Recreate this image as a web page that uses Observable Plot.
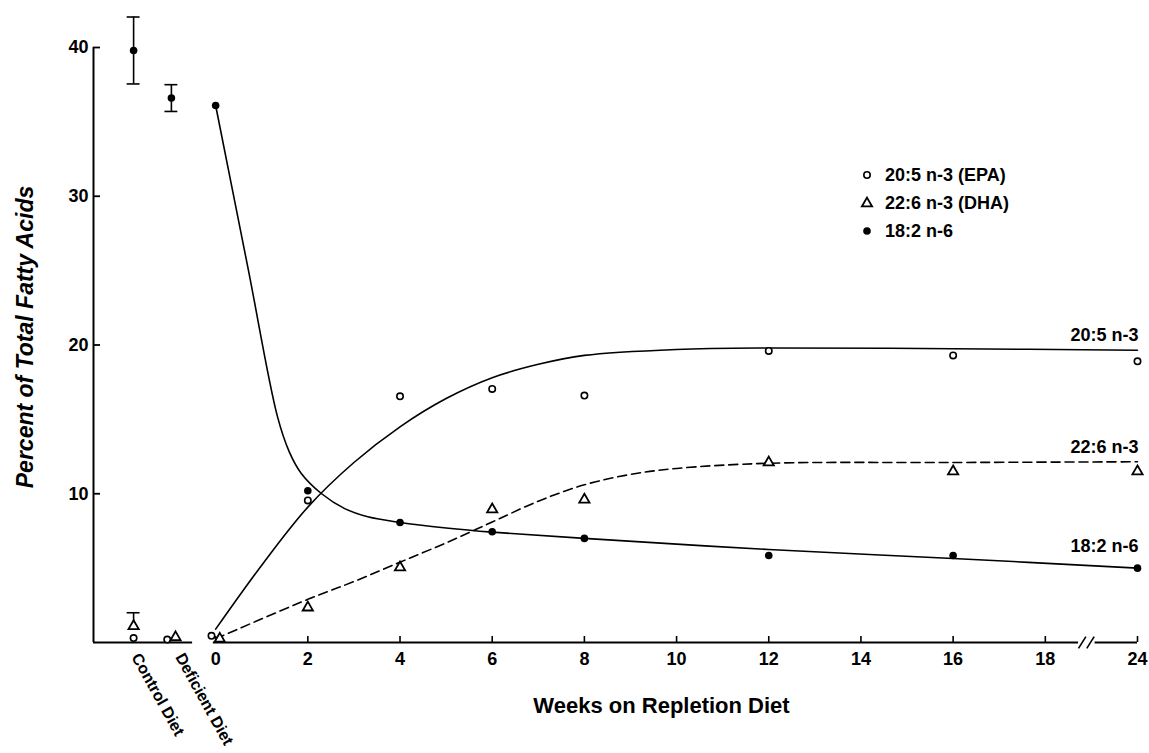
<!DOCTYPE html>
<html>
<head>
<meta charset="utf-8">
<script src="https://cdn.jsdelivr.net/npm/d3@7"></script>
<script src="https://cdn.jsdelivr.net/npm/@observablehq/plot@0.6"></script>
<style>
  html, body { margin: 0; padding: 0; background: #fff; }
  #wrap { position: relative; width: 1149px; height: 753px; overflow: hidden;
          font-family: "Liberation Sans", Arial, Helvetica, sans-serif; }
  #legend { position: absolute; left: 859px; top: 161px; font-weight: bold; font-size: 18px; color: #000; }
  #legend .row { display: flex; align-items: center; height: 28px; }
  #legend .row svg { width: 16px; height: 16px; margin-right: 10px; overflow: visible; }
</style>
</head>
<body>
<div id="wrap"><div id="legend"></div></div>
<script>
// ---------------- data ----------------
const weeks = [0, 2, 4, 6, 8, 12, 16, 24];
const epaValues = [0.45, 9.55, 16.55, 17.05, 16.6, 19.6, 19.3, 18.9];   // 20:5 n-3
const dhaValues = [0.25, 2.35, 5.05, 8.95, 9.6, 12.1, 11.5, 11.5];      // 22:6 n-3
const laValues  = [36.1, 10.2, 8.07, 7.45, 7.0, 5.85, 5.85, 5.0];       // 18:2 n-6

const dietGroups = ["Control Diet", "Deficient Diet"];
const dietEpa = [0.3, 0.2];
const dietDha = [1.1, 0.35];
const dietDhaErr = [0.9, 0];
const dietLa = [39.8, 36.6];
const dietLaErr = [2.25, 0.9];

// fitted curves as drawn in the figure
const epaCurveWeeks = [0, 1, 2, 3, 4, 5, 6, 7, 8, 10, 12, 16, 24];
const epaCurveValues = [0.9, 5.2, 9.1, 12.1, 14.5, 16.4, 17.8, 18.7, 19.3, 19.7, 19.8, 19.75, 19.65];
const dhaCurveWeeks = [0, 2, 3, 4, 5, 6, 7, 8, 9, 10, 12, 16, 24];
const dhaCurveValues = [0.25, 2.9, 4.1, 5.4, 6.7, 8.1, 9.5, 10.6, 11.3, 11.7, 12.05, 12.1, 12.15];
const laCurveWeeks = [0, 0.7, 1.34, 1.6, 1.85, 2.3, 2.8, 3.3, 4, 5, 6, 8, 12, 16, 24];
const laCurveValues = [36.1, 25.2, 15.2, 12.8, 11.4, 10.0, 9.0, 8.45, 8.07, 7.7, 7.42, 7.0, 6.25, 5.65, 5.0];

const seriesNames = ["20:5 n-3", "22:6 n-3", "18:2 n-6"];
const legendLabels = ["20:5 n-3 (EPA)", "22:6 n-3 (DHA)", "18:2 n-6"];
const xTickLabels = [0, 2, 4, 6, 8, 10, 12, 14, 16, 18, 24];
const yTickLabels = [10, 20, 30, 40];
const xTitle = "Weeks on Repletion Diet";
const yTitle = "Percent of Total Fatty Acids";

// ---------------- layout helpers ----------------
const breakStart = 18, breakFactor = 3;              // axis break between 18 and 24
const pos = w => w <= breakStart ? w : breakStart + (w - breakStart) / breakFactor;
const xmin = -2.65, xmax = pos(24);
const groupPos = {"Control Diet": -1.78, "Deficient Diet": -0.96};
const groupLabelDx = {"Control Diet": 2, "Deficient Diet": 8};
const endLabelDy = {"20:5 n-3": -15, "22:6 n-3": -15, "18:2 n-6": -22};
const nudge = 0.09;
const font = "Liberation Sans, Arial, Helvetica, sans-serif";

const pts = weeks.map((w, i) => ({x: pos(w), nudge: w === 0, epa: epaValues[i], dha: dhaValues[i], la: laValues[i]}));
const diet = dietGroups.map((g, i) => ({x: groupPos[g], nudge: g === "Deficient Diet", epa: dietEpa[i], dha: dietDha[i], dhaErr: dietDhaErr[i], la: dietLa[i], laErr: dietLaErr[i], name: g}));
const allPts = [...diet, ...pts];

const curve = (ws, vs) => ws.map((w, i) => ({x: pos(w), y: vs[i]}));
const epaCurve = curve(epaCurveWeeks, epaCurveValues);
const dhaCurve = curve(dhaCurveWeeks, dhaCurveValues);
const laCurve = curve(laCurveWeeks, laCurveValues);
const ends = [epaCurve, dhaCurve, laCurve].map((c, i) => ({...c[c.length - 1], name: seriesNames[i]}));

const tickPos = xTickLabels.map(pos);
const tickLabelOf = new Map(xTickLabels.map(w => [pos(w), String(w)]));

const capW = 0.14;
const laErr = diet.filter(d => d.laErr > 0);
const dhaErr = diet.filter(d => d.dhaErr > 0);

const groupLabel = g => Plot.text(diet.filter(d => d.name === g), {x: "x", y: 0, text: "name", rotate: 61, textAnchor: "start", lineAnchor: "middle", dy: 12, dx: groupLabelDx[g], fontSize: 16, fontWeight: "bold"});
const endLabel = n => Plot.text(ends.filter(d => d.name === n), {x: "x", y: "y", text: "name", textAnchor: "end", dy: endLabelDy[n], dx: 1, fontSize: 18, fontWeight: "bold"});

const chart = Plot.plot({
  width: 1149,
  height: 753,
  marginLeft: 93,
  marginRight: 12,
  marginTop: 47,
  marginBottom: 111,
  style: {fontFamily: font, background: "white", color: "black", overflow: "visible"},
  x: {domain: [xmin, xmax], label: null},
  y: {domain: [0, 40], label: null},
  marks: [
    // axis lines
    Plot.ruleX([xmin], {y1: 0, y2: 40, strokeWidth: 2}),
    Plot.ruleY([0], {x1: xmin, x2: -0.5, strokeWidth: 2}),
    Plot.ruleY([0], {x1: -0.05, x2: breakStart + 0.72, strokeWidth: 2}),
    Plot.ruleY([0], {x1: breakStart + 1.08, x2: xmax, strokeWidth: 2}),
    Plot.link([breakStart + 0.8, breakStart + 0.98], {x1: d => d - 0.08, x2: d => d + 0.08, y1: -0.4, y2: 0.4, strokeWidth: 1.6}),
    // axes
    Plot.axisY(yTickLabels, {tickSize: -7, tickPadding: 12, fontSize: 18, fontWeight: "bold", strokeWidth: 1.8, label: null}),
    Plot.axisX(tickPos, {tickSize: -6, tickPadding: 16, fontSize: 18, fontWeight: "bold", strokeWidth: 1.6, label: null,
                         tickFormat: p => tickLabelOf.get(p)}),
    Plot.text([xTitle], {frameAnchor: "bottom", dy: 70, dx: 46, fontSize: 22, fontWeight: "bold"}),
    Plot.text([yTitle], {frameAnchor: "left", textAnchor: "middle", rotate: -90, dx: -68, dy: -8, fontSize: 23, fontWeight: "bold", fontStyle: "italic"}),
    groupLabel("Control Diet"),
    groupLabel("Deficient Diet"),
    // fitted curves
    Plot.line(epaCurve, {x: "x", y: "y", curve: "catmull-rom", stroke: "black", strokeWidth: 1.6}),
    Plot.line(dhaCurve, {x: "x", y: "y", curve: "catmull-rom", stroke: "black", strokeWidth: 1.6, strokeDasharray: "9,5"}),
    Plot.line(laCurve, {x: "x", y: "y", curve: "catmull-rom", stroke: "black", strokeWidth: 1.6}),
    ...seriesNames.map(endLabel),
    // error bars
    Plot.ruleX(laErr, {x: "x", y1: d => d.la - d.laErr, y2: d => d.la + d.laErr, strokeWidth: 1.6}),
    Plot.ruleY(laErr, {y: d => d.la + d.laErr, x1: d => d.x - capW, x2: d => d.x + capW, strokeWidth: 1.6}),
    Plot.ruleY(laErr, {y: d => d.la - d.laErr, x1: d => d.x - capW, x2: d => d.x + capW, strokeWidth: 1.6}),
    Plot.ruleX(dhaErr, {x: "x", y1: "dha", y2: d => d.dha + d.dhaErr, strokeWidth: 1.6}),
    Plot.ruleY(dhaErr, {y: d => d.dha + d.dhaErr, x1: d => d.x - capW, x2: d => d.x + capW, strokeWidth: 1.6}),
    // data points
    Plot.dot(allPts, {x: d => d.x - (d.nudge ? nudge : 0), y: "epa", r: 3.2, stroke: "black", strokeWidth: 1.6, fill: "white"}),
    Plot.dot(allPts, {x: d => d.x + (d.nudge ? nudge : 0), y: "dha", symbol: "triangle", r: 3.8, stroke: "black", strokeWidth: 1.8, fill: "white"}),
    Plot.dot(allPts, {x: "x", y: "la", r: 3.8, fill: "black", stroke: "none"})
  ]
});
document.getElementById("wrap").prepend(chart);

// legend
const legend = d3.select("#legend");
const sym = [
  s => s.append("circle").attr("cx", 8).attr("cy", 8).attr("r", 3.2).attr("fill", "white").attr("stroke", "black").attr("stroke-width", 1.6),
  s => s.append("path").attr("transform", "translate(8,8.5)").attr("d", d3.symbol(d3.symbolTriangle, Math.PI * 3.8 * 3.8)()).attr("fill", "white").attr("stroke", "black").attr("stroke-width", 1.8),
  s => s.append("circle").attr("cx", 8).attr("cy", 8).attr("r", 3.8).attr("fill", "black")
];
legendLabels.forEach((lab, i) => {
  const row = legend.append("div").attr("class", "row");
  sym[i](row.append("svg"));
  row.append("span").text(lab);
});
</script>
</body>
</html>
